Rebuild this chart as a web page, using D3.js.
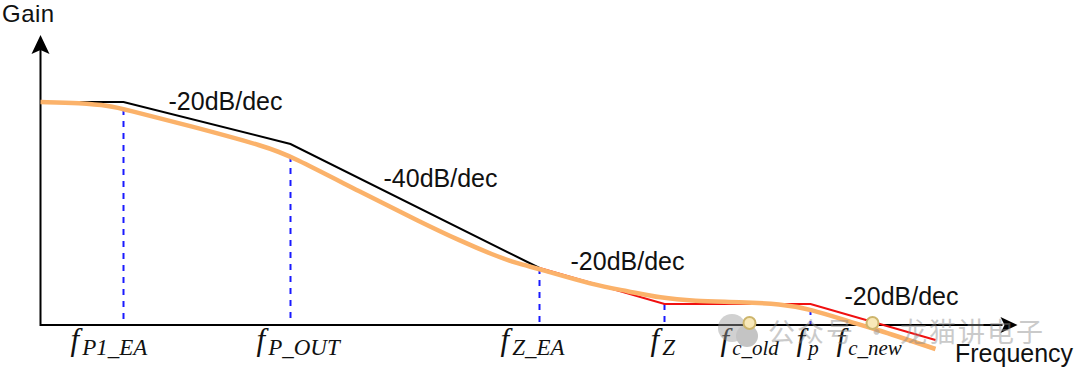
<!DOCTYPE html>
<html>
<head>
<meta charset="utf-8">
<script src="https://cdn.jsdelivr.net/npm/d3@7"></script>
<style>
  html, body { margin: 0; padding: 0; background: #fff; }
  svg { display: block; }
  text { font-family: "Liberation Sans", Arial, sans-serif; fill: #111; }
  .math { font-family: "Liberation Serif", serif; font-style: italic; }
</style>
</head>
<body>
<svg id="chart" width="1080" height="375"></svg>
<script>
// values, x = distance along frequency axis, y = gain above axis
var blackFreq = [0, 83, 250, 499];
var blackGain = [223, 223, 181, 57];
var redFreq = [499, 624, 770, 895];
var redGain = [57, 21, 21, -15];
var smoothFreq = [0, 40, 70, 83, 150, 227, 250, 320, 380, 420, 453, 475, 499, 553, 587, 620, 653, 700, 740, 770, 810, 832, 895];
var smoothGain = [223, 222, 219, 216, 199, 178, 169, 133, 103, 84, 70, 62, 56, 40, 34, 27, 24, 23, 21, 16, 3, -3, -24];

var dropFreq = [83, 250, 499, 624, 770];
var dropGain = [216, 169, 57, 21, 16];

var markerFreq = [709, 832];
var markerGain = [2, 2];

var slopeLabels = ["-20dB/dec", "-40dB/dec", "-20dB/dec", "-20dB/dec"];
var slopeFreq = [128, 343, 530, 804];
var slopeGain = [215, 138, 55, 20];

var freqNames = ["P1_EA", "P_OUT", "Z_EA", "Z", "c_old", "p", "c_new"];
var freqPos = [30, 216, 460, 610, 680, 756, 796];

var svg = d3.select("#chart");

var x = d3.scaleLinear().domain([0, 977]).range([40.5, 1017.5]);
var y = d3.scaleLinear().domain([0, 290]).range([325, 35]);

var line = d3.line()
    .x(function(d) { return x(d[0]); })
    .y(function(d) { return y(d[1]); });

var smooth = d3.line()
    .x(function(d) { return x(d[0]); })
    .y(function(d) { return y(d[1]); })
    .curve(d3.curveBasis);

// dashed drops first so the axes and curves sit on top
svg.selectAll(".drop")
    .data(dropFreq)
    .enter().append("line")
    .attr("class", "drop")
    .attr("x1", function(d) { return x(d); })
    .attr("x2", function(d) { return x(d); })
    .attr("y1", function(d, i) { return y(dropGain[i]); })
    .attr("y2", y(0))
    .attr("stroke", "#1a1aff")
    .attr("stroke-width", 2)
    .attr("stroke-dasharray", "6,6");

// axes
svg.append("path")
    .attr("d", line([[0, 278], [0, 0], [962, 0]]))
    .attr("fill", "none")
    .attr("stroke", "#000")
    .attr("stroke-width", 2);

svg.append("path")
    .attr("d", line([[0, 290], [-9, 271], [0, 275], [9, 271]]) + "Z")
    .attr("fill", "#000");

svg.append("path")
    .attr("d", line([[977, 0], [960, -8], [964, 0], [960, 8]]) + "Z")
    .attr("fill", "#000");

svg.append("path")
    .attr("d", line(d3.zip(blackFreq, blackGain)))
    .attr("fill", "none")
    .attr("stroke", "#000")
    .attr("stroke-width", 2);

svg.append("path")
    .attr("d", line(d3.zip(redFreq, redGain)))
    .attr("fill", "none")
    .attr("stroke", "#f01010")
    .attr("stroke-width", 2);

svg.append("path")
    .attr("d", smooth(d3.zip(smoothFreq, smoothGain)))
    .attr("fill", "none")
    .attr("stroke", "#fbb26a")
    .attr("stroke-width", 4.5);

// text
svg.append("text").attr("x", 2).attr("y", 22).style("font-size", "24px").style("letter-spacing", "0.5px").text("Gain");
svg.append("text").attr("x", 955).attr("y", 362).style("font-size", "25px").text("Frequency");

svg.selectAll(".slope")
    .data(slopeLabels)
    .enter().append("text")
    .attr("class", "slope")
    .attr("x", function(d, i) { return x(slopeFreq[i]); })
    .attr("y", function(d, i) { return y(slopeGain[i]); })
    .style("font-size", "25px")
    .text(function(d) { return d; });

var names = svg.selectAll(".fname")
    .data(freqNames)
    .enter().append("text")
    .attr("class", "fname math")
    .attr("x", function(d, i) { return x(freqPos[i]); })
    .attr("y", 350);

names.append("tspan").style("font-size", "31px").text("f");
names.append("tspan")
    .style("font-size", function(d) { return /[A-Z]/.test(d) ? "23px" : "21px"; })
    .attr("dx", 3)
    .attr("dy", 5)
    .text(function(d) { return d; });

// watermark sits over the drawing
var mark = svg.append("g").attr("opacity", 0.45);
mark.append("circle").attr("cx", 732).attr("cy", 328).attr("r", 14).attr("fill", "#9a9a9a");
mark.append("circle").attr("cx", 747).attr("cy", 336).attr("r", 11).attr("fill", "#7e7e7e");
mark.append("text")
    .attr("x", 768)
    .attr("y", 342)
    .style("font-family", "'Noto Sans CJK SC'")
    .style("font-size", "27px")
    .style("letter-spacing", "2px")
    .style("fill", "#8c8c8c")
    .text("公众号 · 龙猫讲电子");

svg.selectAll(".marker")
    .data(markerFreq)
    .enter().append("circle")
    .attr("class", "marker")
    .attr("cx", function(d) { return x(d); })
    .attr("cy", function(d, i) { return y(markerGain[i]); })
    .attr("r", 6)
    .attr("fill", "#f8e8b8")
    .attr("stroke", "#cdb56c")
    .attr("stroke-width", 2);
</script>
</body>
</html>
